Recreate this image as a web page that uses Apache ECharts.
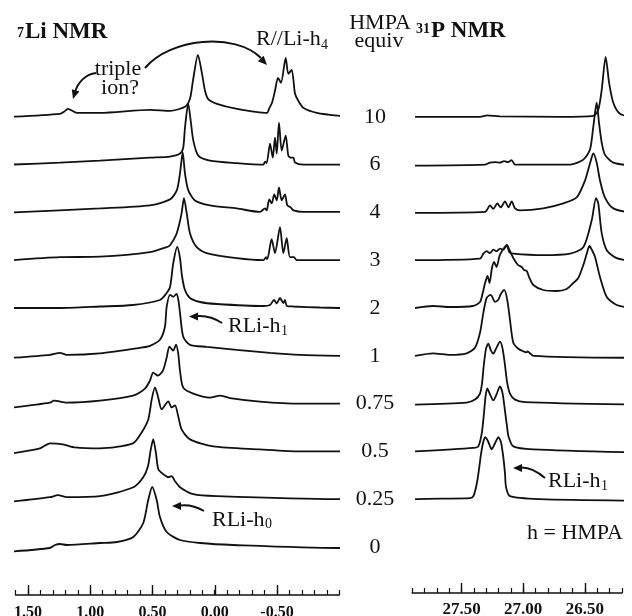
<!DOCTYPE html>
<html>
<head>
<meta charset="utf-8">
<title>7Li / 31P NMR vs HMPA equiv</title>
<script src="https://cdn.jsdelivr.net/npm/echarts@6/dist/echarts.min.js"></script>
<style>
    html, body { margin: 0; padding: 0; background: #fff; }
    #chart { width: 632px; height: 616px; }
</style>
</head>
<body>
<div id="chart"></div>
<script>
// HMPA equivalents, top trace first
const equiv = ['10', '6', '4', '3', '2', '1', '0.75', '0.5', '0.25', '0'];

// 7Li spectra, [ppm, intensity above own baseline]
const li10 = [[1.629,0],[1.243,3],[1.211,5],[1.179,8],[1.106,4],[0.922,4],[0.520,7],[0.359,6],[0.239,10],[0.199,18],[0.175,36],[0.135,62],[0.102,43],[0.078,26],[0.054,18],[-0.018,13],[-0.179,8],[-0.420,4],[-0.436,8],[-0.460,14],[-0.484,26],[-0.508,39],[-0.532,34],[-0.570,59],[-0.591,43],[-0.618,47],[-0.645,23],[-0.671,16],[-0.711,9],[-0.819,4],[-1.006,1]];
const li6 = [[1.629,0],[1.243,2],[0.922,4],[0.520,7],[0.359,8],[0.279,11],[0.253,17],[0.239,37],[0.213,61],[0.193,44],[0.172,24],[0.132,9],[0.038,4],[-0.176,1.5],[-0.390,0],[-0.404,3],[-0.417,1.5],[-0.444,21],[-0.466,7],[-0.484,27],[-0.498,11],[-0.516,42],[-0.538,14],[-0.570,29],[-0.591,9],[-0.613,7],[-0.632,7],[-0.645,2],[-0.711,0],[-1.006,0]];
const li4 = [[1.629,0],[0.922,4],[0.520,7],[0.359,13],[0.305,22],[0.279,39],[0.257,60],[0.239,39],[0.212,22],[0.159,12],[0.038,7],[-0.176,4],[-0.363,0.5],[-0.404,4],[-0.417,2],[-0.438,13],[-0.458,9],[-0.478,18],[-0.498,12],[-0.516,25],[-0.538,12],[-0.564,18],[-0.583,7],[-0.610,5],[-0.632,2],[-0.711,0.5],[-1.006,0.5]];
const li3 = [[1.629,0],[1.243,3],[0.922,3.5],[0.520,8],[0.386,13],[0.359,15],[0.311,25],[0.287,35],[0.266,47],[0.247,62],[0.225,47],[0.199,27],[0.145,13],[0.065,7],[-0.176,2],[-0.390,0],[-0.412,3],[-0.422,1],[-0.457,21],[-0.484,7],[-0.524,33],[-0.551,7],[-0.578,22],[-0.604,3],[-0.637,3],[-0.658,0],[-1.006,0]];
const li2 = [[1.629,0],[1.243,0],[0.922,1.5],[0.657,3],[0.440,8],[0.392,14],[0.359,21],[0.333,45],[0.301,61],[0.279,50],[0.263,32],[0.239,18],[0.199,10],[0.118,6],[-0.016,4],[-0.390,2],[-0.444,3],[-0.476,8],[-0.498,4.5],[-0.524,10],[-0.551,5],[-0.564,8],[-0.580,2],[-0.631,1.5],[-0.845,0.5],[-1.006,0]];
const li1 = [[1.629,-2],[1.323,1],[1.243,3],[1.187,1],[0.922,2.5],[0.600,8],[0.520,10],[0.440,16],[0.400,29],[0.386,49],[0.359,61],[0.333,59],[0.306,62],[0.291,55],[0.279,43],[0.253,19],[0.199,11],[0.065,9],[-0.176,6],[-0.444,3],[-0.685,1],[-1.006,0]];
const li075 = [[1.629,-4],[1.323,1],[1.291,3],[1.187,1],[0.922,3],[0.657,8],[0.560,15],[0.520,23],[0.494,31],[0.456,28],[0.416,33],[0.386,46],[0.364,57],[0.333,53],[0.311,59],[0.293,50],[0.279,33],[0.253,16],[0.172,10],[0.038,6],[-0.042,8],[-0.122,5.5],[-0.363,2],[-0.685,0],[-1.006,0]];
const li05 = [[1.629,-2],[1.404,3],[1.323,8],[1.219,7],[1.122,4],[0.922,3],[0.657,8],[0.587,19],[0.534,32],[0.506,52],[0.480,64],[0.456,55],[0.426,42],[0.373,50],[0.346,44],[0.319,46],[0.293,35],[0.266,22],[0.199,12],[0.012,5],[-0.363,2],[-0.685,0],[-1.006,0]];
const li025 = [[1.629,-2.5],[1.323,2],[1.259,4],[1.187,2],[0.922,3],[0.654,12],[0.574,22],[0.536,33],[0.516,48],[0.494,60],[0.472,46],[0.453,30],[0.413,25],[0.373,22],[0.346,23],[0.319,18],[0.279,12],[0.172,5],[-0.016,3],[-0.980,0],[-1.006,0]];
const li0 = [[1.629,-4.5],[1.323,-1],[1.283,2],[1.243,3],[1.187,2],[0.922,4],[0.785,5],[0.654,10],[0.574,24],[0.534,47],[0.502,60],[0.466,47],[0.440,30],[0.386,15],[0.279,7],[0.118,4],[-0.149,2],[-0.980,-1],[-1.006,-1]];

// 31P spectra, [ppm, intensity above own baseline]
const p10 = [[27.877,0],[27.350,0],[27.293,1.5],[27.188,0.5],[26.701,0],[26.431,1],[26.391,7],[26.363,27],[26.331,60],[26.303,34],[26.269,14],[26.215,3],[26.117,0]];
const p6 = [[27.877,-1],[27.310,0],[27.269,2],[27.228,2.5],[27.188,2],[27.155,3.5],[27.123,2.5],[27.093,4.5],[27.066,0],[26.620,0],[26.512,5],[26.458,15],[26.431,38],[26.404,62],[26.385,42],[26.363,22],[26.337,10],[26.269,2],[26.117,-1]];
const p4 = [[27.877,-0.5],[27.309,0.5],[27.269,7],[27.242,3.5],[27.210,9],[27.182,5],[27.147,11],[27.120,5],[27.093,11],[27.066,4],[27.026,2],[26.837,4],[26.674,9],[26.566,15],[26.498,32],[26.458,49],[26.431,59],[26.404,50],[26.377,32],[26.337,15],[26.269,4],[26.117,-0.5]];
const p3 = [[27.877,0],[27.350,1.5],[27.323,6.5],[27.296,9],[27.269,7],[27.242,10.5],[27.215,9],[27.188,11.5],[27.161,10.5],[27.133,15],[27.112,8],[27.080,6.5],[26.837,5],[26.620,6.5],[26.512,13],[26.444,40],[26.409,62],[26.391,57],[26.363,27],[26.322,10],[26.241,2],[26.117,-0.5]];
const p2 = [[27.877,0],[27.731,2],[27.593,1],[27.407,2],[27.350,6],[27.330,14],[27.309,25],[27.289,32],[27.273,25],[27.253,40],[27.236,46],[27.216,41],[27.192,52],[27.172,57],[27.155,60],[27.133,63],[27.111,58],[27.080,50],[27.042,43],[27.012,41],[26.993,38],[26.971,37],[26.949,30],[26.918,23],[26.837,18],[26.728,17],[26.647,19],[26.593,25],[26.553,30],[26.512,43],[26.485,54],[26.462,62],[26.442,58],[26.417,51],[26.377,31],[26.322,11],[26.241,3],[26.117,0]];
const p1 = [[27.877,0],[27.731,2.5],[27.593,1],[27.458,2.5],[27.391,8],[27.350,23],[27.323,43],[27.296,58],[27.263,61],[27.228,54],[27.202,56],[27.180,62],[27.153,66],[27.129,56],[27.107,36],[27.080,13],[27.039,7],[26.999,4.5],[26.971,3.5],[26.965,4.5],[26.918,0],[26.117,-2]];
const p075 = [[27.877,-1],[27.458,1],[27.391,4],[27.350,10],[27.334,20],[27.318,40],[27.301,55],[27.283,60],[27.261,53],[27.242,50],[27.220,55],[27.188,62],[27.167,55],[27.147,38],[27.131,22],[27.107,10],[27.066,4],[26.985,1.5],[26.117,-1]];
const p05 = [[27.877,0],[27.404,3.5],[27.364,5],[27.336,18],[27.318,38],[27.305,55],[27.291,63],[27.269,57],[27.242,51],[27.216,57],[27.188,65],[27.167,58],[27.147,40],[27.131,25],[27.119,15],[27.080,5],[26.918,2],[26.117,-1]];
const p025 = [[27.877,0],[27.674,0.5],[27.431,1],[27.404,3],[27.377,15],[27.358,30],[27.342,45],[27.326,56],[27.309,62],[27.285,58],[27.255,50],[27.228,56],[27.201,62],[27.180,57],[27.161,42],[27.147,25],[27.139,12],[27.107,3],[26.863,0],[26.117,-1.5]];

const liSpectra = [li10, li6, li4, li3, li2, li1, li075, li05, li025, li0];
const pSpectra = [p10, p6, p4, p3, p2, p1, p075, p05, p025];

// layout
const BASE = 547;      // pixel row of the bottom baseline
const STEP = 47.8;     // vertical spacing between traces
const INK = '#111';
const SERIF = '"Liberation Serif", "Times New Roman", serif';

let chart = echarts.init(document.getElementById('chart'));

function shift(spec, k) {
    // k = index from the top trace
    let off = (equiv.length - 1 - k) * STEP;
    return spec.map(p => [p[0], p[1] + off]);
}

function traceSeries(spec, k, axis) {
    return {
        type: 'line',
        xAxisIndex: axis,
        yAxisIndex: axis,
        data: shift(spec, k),
        showSymbol: false,
        symbol: 'none',
        smooth: 0.25,
        clip: false,
        silent: true,
        lineStyle: { color: INK, width: 1.8 }
    };
}

function minorAxis(grid, min, max, off) {
    return {
        gridIndex: grid, type: 'value', inverse: true,
        min: min, max: max, interval: 0.1, offset: off,
        axisLine: { show: true, onZero: false, lineStyle: { color: INK, width: 1.5 } },
        axisTick: { show: true, inside: true, length: 5, lineStyle: { color: INK, width: 1.2 } },
        axisLabel: { show: false },
        splitLine: { show: false }
    };
}

function majorAxis(grid, min, max, off, size, margin) {
    return {
        gridIndex: grid, type: 'value', inverse: true,
        min: min, max: max, interval: 0.5, offset: off,
        axisLine: { show: false, onZero: false },
        axisTick: { show: true, inside: true, length: 10, lineStyle: { color: INK, width: 1.4 } },
        axisLabel: {
            show: true, margin: margin, showMinLabel: true, showMaxLabel: true,
            color: INK, fontFamily: SERIF, fontWeight: 'bold', fontSize: size,
            formatter: v => v.toFixed(2)
        },
        splitLine: { show: false }
    };
}

function txt(text, x, y, size, extra) {
    return {
        type: 'text', x: x, y: y, silent: true,
        style: Object.assign({
            text: text, fill: INK, fontFamily: SERIF, fontSize: size,
            align: 'left', verticalAlign: 'middle'
        }, extra || {})
    };
}

function arrowHead(tip, dx, dy) {
    // small filled triangle, direction (dx, dy)
    let len = Math.sqrt(dx * dx + dy * dy);
    let ux = dx / len, uy = dy / len;
    let bx = tip[0] - 9 * ux, by = tip[1] - 9 * uy;
    return {
        type: 'polygon', silent: true,
        shape: { points: [tip, [bx - 4 * uy, by + 4 * ux], [bx + 4 * uy, by - 4 * ux]] },
        style: { fill: INK }
    };
}

function bend(x1, y1, cx, cy, x2, y2) {
    // quadratic curve (bezierCurve without second control point)
    return { type: 'bezierCurve', silent: true, shape: { x1: x1, y1: y1, cpx1: cx, cpy1: cy, x2: x2, y2: y2 }, style: curve };
}

const curve = { fill: null, stroke: INK, lineWidth: 2 };

let graphics = [
    txt('7', 17, 26, 14, { fontWeight: 'bold', verticalAlign: 'top' }),
    txt('Li NMR', 25, 32, 23, { fontWeight: 'bold' }),
    txt('31', 416, 22, 14, { fontWeight: 'bold', verticalAlign: 'top' }),
    txt('P NMR', 431, 31, 23, { fontWeight: 'bold' }),
    txt('HMPA', 380, 23, 22, { align: 'center' }),
    txt('equiv', 379, 41, 22, { align: 'center' }),
    txt('triple', 118, 69, 22, { align: 'center' }),
    txt('ion?', 120, 88, 22, { align: 'center' }),
    txt('R//Li-h', 256, 39, 22),
    txt('4', 321, 45.5, 14),
    txt('RLi-h', 228, 326, 22),
    txt('1', 281, 331, 14),
    txt('RLi-h', 212, 520, 22),
    txt('0', 265, 524, 14),
    txt('RLi-h', 548, 481, 22),
    txt('1', 601, 486, 14),
    txt('h = HMPA', 527, 533, 22),
    // triple ion <-> R//Li-h4
    { type: 'bezierCurve', silent: true, shape: { x1: 145, y1: 68, cpx1: 170, cpy1: 38, cpx2: 235, cpy2: 32, x2: 261, y2: 58 }, style: curve },
    arrowHead([267, 65], 27, 28),
    { type: 'bezierCurve', silent: true, shape: { x1: 96, y1: 73, cpx1: 86, cpy1: 74, cpx2: 78, cpy2: 82, x2: 75, y2: 92 }, style: curve },
    arrowHead([73, 99], -3, 10),
    // RLi-h1 / RLi-h0 pointers
    bend(222, 323, 210, 315, 197, 316),
    arrowHead([189, 316.5], -1, 0),
    bend(204, 511, 192, 504, 180, 505.5),
    arrowHead([172, 506], -1, 0),
    bend(545, 478, 532, 467, 521, 467.5),
    arrowHead([513, 468], -1, 0)
];

equiv.forEach((t, k) => {
    graphics.push(txt(t, 375, BASE - (equiv.length - 1 - k) * STEP, 22, { align: 'center' }));
});

let series = [];
liSpectra.forEach((s, k) => series.push(traceSeries(s, k, 0)));
pSpectra.forEach((s, k) => series.push(traceSeries(s, k, 2)));

function panel(left, width) {
    return { left: left, width: width, top: 0, height: BASE, containLabel: false, outerBoundsMode: 'none' };
}

let option = {
    backgroundColor: '#fff',
    animation: false,
    grid: [
        panel(15.5, 323.75),   // 7Li, 1.6 .. -1.0 ppm
        panel(28, 249),        // 7Li labelled ticks
        panel(412.2, 209.6),   // 31P, 27.9 .. 26.2 ppm
        panel(461.5, 123.3)    // 31P labelled ticks
    ],
    xAxis: [
        minorAxis(0, -1.0, 1.6, 48),
        majorAxis(1, -0.5, 1.5, 48, 16, 10),
        minorAxis(2, 26.2, 27.9, 46),
        majorAxis(3, 26.5, 27.5, 46, 17, 8)
    ],
    yAxis: [0, 1, 2, 3].map(i => ({ gridIndex: i, type: 'value', min: 0, max: BASE, show: false })),
    series: series,
    graphic: graphics
};
chart.setOption(option);
</script>
</body>
</html>
